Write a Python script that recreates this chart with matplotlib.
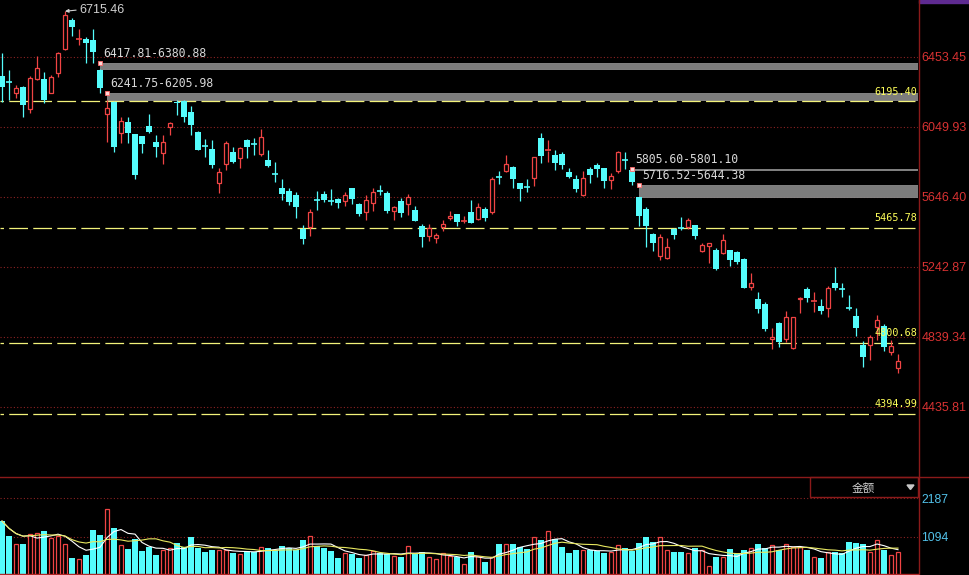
import matplotlib
matplotlib.use('Agg')
import matplotlib.pyplot as plt
import numpy as np
import pandas as pd
from matplotlib.patches import Rectangle, Polygon
from matplotlib.lines import Line2D

# ---------------- data ----------------
opens = [6342, 6311, 6242, 6277, 6150, 6323, 6323, 6246, 6358, 6496,
         6665, 6553, 6554, 6550, 6378, 6121, 6194, 6015, 6075, 6005,
         5994, 6054, 5964, 5897, 6046, 6192, 6196, 6133, 6022, 5942,
         5921, 5727, 5835, 5906, 5871, 5973, 5952, 5893, 5858, 5783,
         5695, 5681, 5656, 5460, 5470, 5629, 5662, 5624, 5633, 5623,
         5695, 5604, 5560, 5608, 5683, 5669, 5566, 5622, 5603, 5570,
         5478, 5422, 5410, 5470, 5522, 5545, 5504, 5558, 5516, 5576,
         5560, 5764, 5796, 5816, 5725, 5706, 5752, 5983, 5909, 5887,
         5893, 5791, 5748, 5656, 5804, 5829, 5810, 5743, 5796, 5864,
         5800, 5642, 5574, 5431, 5305, 5291, 5460, 5472, 5470, 5481,
         5333, 5364, 5339, 5320, 5337, 5326, 5289, 5128, 5057, 5028,
         4828, 4917, 4824, 4772, 5055, 5113, 5038, 5016, 5003, 5151,
         5120, 5008, 4959, 4792, 4792, 4894, 4901, 4753, 4657]
highs = [6473, 6377, 6290, 6284, 6342, 6457, 6367, 6348, 6482, 6715.46,
         6675, 6611, 6569, 6611, 6380.88, 6205.98, 6200, 6104, 6107, 6008,
         5996, 6123, 6002, 6002, 6079, 6204, 6203, 6169, 6025, 5977,
         5973, 5810, 5968, 5935, 5935, 5977, 5983, 6037, 5916, 5845,
         5747, 5695, 5675, 5483, 5574, 5681, 5681, 5691, 5641, 5675,
         5698, 5608, 5656, 5695, 5714, 5679, 5593, 5637, 5662, 5593,
         5487, 5487, 5439, 5512, 5564, 5547, 5535, 5627, 5608, 5589,
         5762, 5795, 5887, 5823, 5727, 5747, 5877, 6012, 5973, 5916,
         5902, 5810, 5772, 5796, 5819, 5839, 5814, 5781, 5910, 5906,
         5801.10, 5644.38, 5585, 5435, 5431, 5407, 5464, 5531, 5525, 5483,
         5378, 5381, 5349, 5430, 5339, 5333, 5291, 5205, 5097, 5041,
         4888, 4926, 4988, 4955, 5067, 5128, 5099, 5055, 5132, 5243,
         5147, 5080, 5003, 4815, 4849, 4965, 4911, 4820, 4740]
lows = [6194, 6204, 6214, 6107, 6127, 6319, 6185, 6242, 6338, 6492,
        6573, 6521, 6419, 6417.81, 6241.75, 5963, 5906, 5954, 5954, 5747,
        5900, 6012, 5877, 5833, 6002, 6117, 6079, 6002, 5913, 5877,
        5810, 5666, 5800, 5839, 5814, 5868, 5887, 5881, 5819, 5733,
        5627, 5599, 5522, 5374, 5420, 5570, 5618, 5599, 5583, 5593,
        5604, 5537, 5512, 5566, 5656, 5554, 5512, 5531, 5541, 5506,
        5358, 5393, 5381, 5449, 5512, 5478, 5493, 5495, 5512, 5506,
        5545, 5720, 5791, 5698, 5623, 5675, 5710, 5839, 5848, 5800,
        5804, 5752, 5675, 5650, 5727, 5762, 5698, 5691, 5785, 5805.60,
        5716.52, 5478, 5355, 5335, 5282, 5286, 5403, 5454, 5460, 5403,
        5329, 5266, 5224, 5318, 5249, 5259, 5120, 5109, 4976, 4874,
        4767, 4782, 4811, 4770, 4974, 5041, 4984, 4970, 4951, 5109,
        5067, 4993, 4843, 4666, 4705, 4820, 4759, 4734, 4632]
closes = [6280, 6307, 6271, 6175, 6329, 6387, 6204, 6338, 6473, 6694,
          6626, 6557, 6531, 6482, 6271, 6160, 5935, 6083, 6015, 5772,
          5948, 6019, 5935, 5960, 6070, 6185, 6108, 6060, 5916, 5938,
          5829, 5791, 5958, 5848, 5929, 5935, 5948, 5992, 5825, 5779,
          5660, 5618, 5589, 5403, 5558, 5625, 5627, 5620, 5612, 5656,
          5633, 5547, 5627, 5675, 5679, 5564, 5589, 5551, 5646, 5508,
          5416, 5468, 5426, 5487, 5537, 5502, 5508, 5497, 5585, 5525,
          5747, 5760, 5835, 5748, 5691, 5702, 5874, 5883, 5914, 5842,
          5829, 5762, 5691, 5752, 5772, 5806, 5739, 5766, 5906, 5860,
          5729, 5537, 5478, 5378, 5416, 5355, 5426, 5468, 5512, 5422,
          5368, 5378, 5228, 5397, 5282, 5272, 5122, 5147, 4997, 4882,
          4839, 4811, 4955, 4951, 5064, 5061, 5043, 4988, 5118, 5118,
          5117, 5005, 4888, 4724, 4839, 4936, 4778, 4786, 4699]
volumes = [1537, 1120, 883, 883, 1167, 1205, 1253, 1063, 1120, 883,
           493, 456, 569, 1281, 1139, 1870, 1329, 854, 740, 1025,
           683, 807, 569, 712, 759, 920, 788, 1091, 778, 664,
           712, 712, 712, 636, 598, 683, 664, 788, 778, 712,
           826, 759, 712, 996, 1110, 826, 778, 693, 493, 636,
           598, 493, 569, 693, 636, 598, 541, 522, 826, 617,
           664, 503, 456, 617, 541, 503, 313, 664, 541,
           380, 503, 883, 883, 883, 788, 731, 1091, 996, 1253,
           1025, 807, 636, 712, 712, 712, 683, 636, 664, 854,
           778, 683, 920, 1091, 949, 1091, 712, 664, 664, 636,
           778, 712, 256, 522, 522, 740, 598, 712, 759, 883,
           759, 854, 712, 883, 807, 807, 712, 503, 493, 645,
           664, 636, 949, 920, 883, 664, 996, 712, 569, 664]

price_ticks = [6453.45, 6049.93, 5646.40, 5242.87, 4839.34, 4435.81]
volume_ticks = [1094, 2187]
support_levels = [6195.40, 5465.78, 4800.68, 4394.99]
gap_start = [14, 15, 90, 91]
gap_top = [6417.81, 6241.75, 5805.60, 5716.52]
gap_bottom = [6380.88, 6205.98, 5801.10, 5644.38]
peak_index = 9
panel_label = '金额'

# ---------------- style ----------------
RED = '#f04444'
CYAN = '#54fcfc'
GRID = '#8c2222'
AXRED = '#8b1a1a'
plt.rcParams['lines.scale_dashes'] = False

W, H = 969, 575
fig = plt.figure(figsize=(W / 100, H / 100), dpi=100, facecolor='black')
ax = fig.add_axes([0, 98 / H, 918 / W, 477 / H])
axv = fig.add_axes([0, 0, 918 / W, 98 / H])

XL, XR = -2 / 7, 916 / 7
for a in (ax, axv):
    a.set_facecolor('black')
    for s in a.spines.values():
        s.set_visible(False)
    a.set_xlim(XL, XR)
    a.tick_params(axis='x', bottom=False, labelbottom=False)
    a.yaxis.tick_right()
    a.tick_params(axis='y', length=0, pad=2.5)
ax.set_ylim(4030.5, 6780.3)
axv.set_ylim(0, 2790)

n = len(opens)
x = np.arange(n)
o = np.array(opens, float)
h = np.array(highs, float)
l = np.array(lows, float)
c = np.array(closes, float)
up = c >= o

# grid (dotted)
for p in price_ticks:
    ax.axhline(p, color=GRID, lw=0.8, linestyle=(0, (0.8, 1.6)), zorder=1)
for v in volume_ticks:
    axv.axhline(v, color=GRID, lw=0.8, linestyle=(0, (0.8, 1.6)), zorder=1)

# gap bands
for s, t, b in zip(gap_start, gap_top, gap_bottom):
    ax.add_patch(Rectangle((s, b), XR - s, t - b, facecolor='#7c7c7c',
                           edgecolor='#8c8c8c', lw=0.6, zorder=2))
    ax.annotate(f'{t:.2f}-{b:.2f}', xy=(s, t), xytext=(2.2, 4.3),
                textcoords='offset points', ha='left', va='baseline',
                color='#d8d8d8', fontsize=8.3, family='DejaVu Sans Mono', zorder=6)
    ax.plot([s], [t], 's', ms=2.6, mfc='#ffd8d8', mec='#ff6a6a', mew=0.6, zorder=7)

# support dashed lines
ax.hlines(support_levels, XL, 913 / 7, colors='#f2f27a', lw=0.9,
          linestyles=[(11, (13.5, 3.8))], zorder=3)
for lv in support_levels:
    ax.annotate(f'{lv:.2f}', xy=(915 / 7, lv), xytext=(0, 5), textcoords='offset points',
                ha='right', va='baseline', color='#ffff5a', fontsize=7.3,
                family='DejaVu Sans Mono', zorder=8)

# candles
tiny = 6.0
for i in range(n):
    top, bot = max(o[i], c[i]), min(o[i], c[i])
    if up[i]:
        ax.vlines(i, top, h[i], color=RED, lw=0.9, zorder=4)
        ax.vlines(i, l[i], bot, color=RED, lw=0.9, zorder=4)
        if top - bot < tiny:
            ax.hlines(c[i], i - 0.36, i + 0.36, color=RED, lw=1.2, zorder=5)
        else:
            ax.bar(i, top - bot, bottom=bot, width=0.58, facecolor='black',
                   edgecolor=RED, lw=0.9, zorder=5)
    else:
        ax.vlines(i, l[i], h[i], color=CYAN, lw=0.9, zorder=4)
        if top - bot < tiny:
            ax.hlines(c[i], i - 0.36, i + 0.36, color=CYAN, lw=1.2, zorder=5)
        else:
            ax.bar(i, top - bot, bottom=bot, width=0.72, color=CYAN, lw=0, zorder=5)

# peak annotation
ax.annotate(f'{highs[peak_index]:.2f}', xy=(peak_index, highs[peak_index]),
            xytext=(10, 1), textcoords='offset points', ha='left', va='center',
            color='#d0d0d0', fontsize=9, family='Liberation Sans', zorder=8,
            arrowprops=dict(arrowstyle='-|>', color='#d0d0d0', lw=0.8,
                            mutation_scale=5, shrinkA=0, shrinkB=0, relpos=(0, 0.5)))

# volume bars
vol = np.array(volumes, float)
axv.bar(x[~up], vol[~up], width=0.72, color=CYAN, lw=0, zorder=3)
axv.bar(x[up], vol[up], width=0.58, facecolor='black', edgecolor=RED, lw=0.9, zorder=3)
vs = pd.Series(vol)
axv.plot(x, vs.rolling(5, min_periods=1).mean(), color='white', lw=0.8, zorder=4)
axv.plot(x, vs.rolling(10, min_periods=1).mean(), color='#e8e860', lw=0.8, zorder=4)

# axis labels
ax.set_yticks(price_ticks)
ax.set_yticklabels([f'{p:.2f}' for p in price_ticks], color='#d83232',
                   fontsize=9, family='Liberation Sans')
axv.set_yticks(volume_ticks)
axv.set_yticklabels([str(v) for v in volume_ticks], color='#52c2ea',
                    fontsize=8.8, family='Liberation Sans')

# frame lines
fig.add_artist(Line2D([0, 1], [1 - 477 / H] * 2, transform=fig.transFigure,
                      color=AXRED, lw=1.0))
fig.add_artist(Line2D([918.5 / W] * 2, [0, 1], transform=fig.transFigure,
                      color=AXRED, lw=1.0))
fig.add_artist(Line2D([0, 918 / W], [1.2 / H] * 2, transform=fig.transFigure,
                      color='#b02828', lw=1.0))
fig.add_artist(Rectangle((919 / W, 1 - 3 / H), 50 / W, 3 / H,
                         transform=fig.transFigure, color='#5e2a90'))
# 金额 box
fig.add_artist(Rectangle((810 / W, 1 - 497 / H), 108 / W, 20 / H, transform=fig.transFigure,
                         fill=False, edgecolor=AXRED, lw=1.0))
fig.text(863 / W, 1 - 488 / H, panel_label, ha='center', va='center', color='#d0d0d0',
         fontsize=8.4, family=['Noto Sans CJK SC', 'DejaVu Sans'])
fig.add_artist(Polygon([(907 / W, 1 - 485 / H), (914 / W, 1 - 485 / H),
                        (910.5 / W, 1 - 489.5 / H)], closed=True,
                       transform=fig.transFigure, color='#c8c8c8'))

fig.savefig('out.png', dpi=100, facecolor='black')
